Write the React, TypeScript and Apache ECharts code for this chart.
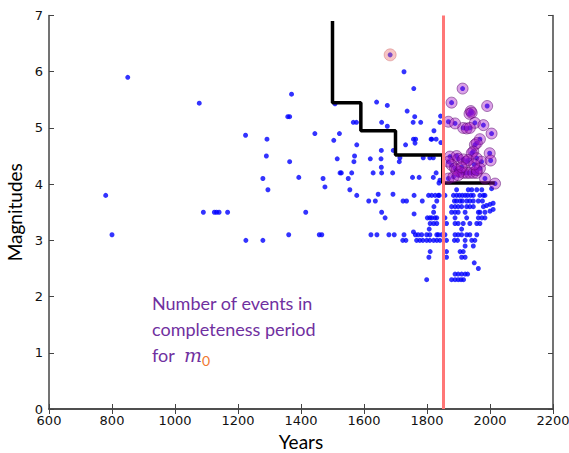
import React, { useEffect, useRef } from "react";
import * as echarts from "echarts";

// ---- data (year, magnitude) ----
const historicEvents: number[][] = [
  [780, 3.8], [800, 3.1], [850, 5.9], [1077, 5.44], [1090, 3.5], [1125, 3.5], [1132, 3.5], [1140, 3.5], [1167, 3.5],
  [1225, 3.0], [1224, 4.87], [1279, 3.0], [1279, 4.1], [1290, 4.5], [1292, 4.8], [1295, 3.9], [1361, 3.1],
  [1358, 5.2], [1364, 5.2], [1364, 4.4], [1370, 5.6], [1393, 4.12], [1415, 3.5], [1444, 4.9], [1458, 3.1],
  [1466, 3.1], [1470, 4.1], [1476, 3.95],
  [1504, 4.78], [1508, 5.43], [1515, 4.45], [1522, 4.9], [1524, 4.2], [1528, 4.2], [1550, 4.1], [1555, 3.9],
  [1561, 4.2], [1566, 5.1], [1576, 5.1], [1570, 4.5], [1568, 4.4], [1577, 4.7], [1577, 3.8], [1615, 3.7],
  [1620, 4.45], [1622, 3.1], [1629, 4.2], [1636, 3.7], [1640, 5.46], [1641, 3.1], [1645, 3.82], [1655, 4.6],
  [1654, 4.45], [1655, 4.3], [1656, 4.2], [1656, 5.1], [1656, 3.5], [1667, 3.4], [1674, 5.4], [1674, 5.03],
  [1679, 3.1], [1691, 4.2], [1692, 3.82], [1693, 4.6], [1696, 3.1], [1712, 4.4], [1714, 4.47], [1723, 3.0],
  [1724, 3.7], [1727, 6.0], [1727, 3.1], [1732, 4.7], [1733, 3.0], [1735, 3.7], [1737, 5.3], [1754, 4.12],
  [1756, 5.1], [1757, 4.8], [1757, 3.15], [1758, 5.7], [1759, 3.8], [1759, 3.47], [1761, 5.2], [1762, 4.73],
  [1764, 4.8], [1763, 3.1], [1767, 3.0], [1772, 3.1], [1775, 4.12], [1777, 3.0], [1780, 5.1], [1783, 3.1],
  [1785, 3.7], [1787, 3.0], [1788, 4.47], [1799, 3.1], [1799, 3.0], [1799, 2.3], [1801, 3.4], [1805, 3.8],
  [1806, 2.7], [1807, 3.2], [1809, 3.4], [1809, 4.47], [1809, 3.1], [1809, 3.0], [1810, 2.8], [1810, 3.3],
  [1813, 4.8], [1815, 4.8], [1815, 3.8], [1815, 3.4], [1820, 4.12], [1820, 4.47], [1821, 3.5], [1821, 3.3],
  [1821, 3.0], [1822, 4.95], [1822, 3.6], [1825, 3.4], [1826, 3.8], [1829, 4.8], [1829, 4.2], [1831, 3.7],
  [1831, 3.4], [1831, 3.3], [1831, 3.1], [1831, 3.0], [1836, 3.8], [1836, 3.1], [1838, 4.02], [1839, 3.8],
  [1841, 5.1], [1841, 3.0], [1843, 5.21], [1844, 4.74], [1847, 3.1], [1841, 4.07],
  [1857, 3.8], [1884, 3.8], [1894, 3.8], [1903, 3.8], [1912, 3.8], [1921, 3.8], [1929, 3.8], [1939, 3.8],
  [1947, 3.8], [1968, 3.8], [1979, 3.8], [1984, 3.8],
  [1894, 3.9], [1931, 3.9], [1942, 3.9], [1958, 3.9], [1974, 3.9], [2005, 3.92],
  [1887, 3.7], [1894, 3.7], [1905, 3.7], [1912, 3.7], [1926, 3.7], [1936, 3.7], [1947, 3.7], [1963, 3.7], [1976, 3.7],
  [1878, 3.6], [1889, 3.6], [1899, 3.6], [1910, 3.6], [1926, 3.6], [1936, 3.6], [1947, 3.6], [1979, 3.6],
  [1989, 3.62], [2000, 3.64], [2010, 3.66],
  [1878, 3.5], [1889, 3.5], [1899, 3.5], [1921, 3.5], [1963, 3.5], [1968, 3.5], [1984, 3.5], [2000, 3.52], [2010, 3.55],
  [1857, 3.4], [1889, 3.4], [1926, 3.4], [1963, 3.4], [1974, 3.4], [1984, 3.4],
  [1862, 3.3], [1889, 3.3], [1899, 3.3], [1915, 3.3], [1936, 3.3], [1958, 3.3], [1968, 3.3],
  [1910, 3.2],
  [1857, 3.1], [1889, 3.1], [1899, 3.1], [1910, 3.1], [1926, 3.1], [1936, 3.1], [1958, 3.1],
  [1862, 3.0], [1887, 3.0], [1897, 3.0], [1921, 3.0], [1942, 3.0], [1952, 3.0],
  [1921, 2.9], [1947, 2.9], [1862, 2.8], [1905, 2.8], [1915, 2.8], [1862, 2.7], [1910, 2.7], [1921, 2.7],
  [1950, 2.6], [1963, 2.5],
  [1889, 2.4], [1899, 2.4], [1910, 2.4], [1921, 2.4], [1929, 2.4],
  [1878, 2.3], [1889, 2.3], [1899, 2.3], [1908, 2.3], [1916, 2.3],
];

// events counted in the completeness period for m0 (purple)
const completeEvents: number[][] = [
  [1878, 5.45], [1991, 5.39], [1939, 5.3], [1935, 5.25], [1942, 5.27], [1913, 5.7], [1868, 5.11], [1889, 5.08],
  [1952, 5.09], [1979, 5.05], [1915, 5.0], [1926, 4.99], [1936, 5.0], [2005, 4.9], [1968, 4.8], [1952, 4.7],
  [1958, 4.73], [1947, 4.58], [1942, 4.55], [1999, 4.55], [1873, 4.49], [1894, 4.5], [1899, 4.45], [1915, 4.44],
  [1926, 4.4], [1931, 4.43], [1958, 4.46], [1973, 4.4], [2002, 4.42], [1868, 4.4], [1878, 4.34], [1889, 4.28],
  [1894, 4.25], [1905, 4.22], [1915, 4.2], [1926, 4.2], [1936, 4.2], [1947, 4.2], [1958, 4.2], [1968, 4.28],
  [1984, 4.1], [1868, 4.1], [1884, 4.13], [1899, 4.16], [2016, 4.01], [1958, 4.25], [1910, 4.3], [1950, 4.35],
];

// largest historic event highlighted (salmon)
const highlightEvent: number[][] = [[1683, 6.3]];

// completeness step function: [year, magnitude threshold]
const completenessSteps: number[][] = [
  [1500, 6.9], [1500, 5.45], [1590, 5.45], [1590, 4.95], [1700, 4.95], [1700, 4.52],
  [1850, 4.52], [1850, 4.02], [2015, 4.02],
];
const completenessYear = 1850;

const xMin = 600, xMax = 2200, xStep = 200;
const yMin = 0, yMax = 7, yStep = 1;

export default function App() {
  const ref = useRef<HTMLDivElement>(null);
  useEffect(() => {
    if (!ref.current) return;
    const chart = echarts.init(ref.current, undefined, { renderer: "svg" });
    const tickFont = {
      fontFamily: "DejaVu Sans", fontSize: 13, color: "#111",
      formatter: (v: number) => String(v),
    };
    const axisLine = { show: true, lineStyle: { color: "#444", width: 1.5 } };
    const axisTick = { show: true, inside: true, length: 5, lineStyle: { color: "#444", width: 1 } };
    const allBlue = historicEvents.concat(completeEvents, highlightEvent);
    chart.setOption({
      animation: false,
      grid: { left: 49, right: 16, top: 15.5, bottom: 44, containLabel: false, outerBoundsMode: "none" },
      xAxis: [
        {
          type: "value", min: xMin, max: xMax, interval: xStep, position: "bottom",
          axisLine, axisTick, splitLine: { show: false },
          axisLabel: { ...tickFont, margin: 5 },
          name: "Years", nameLocation: "middle", nameGap: 23,
          nameTextStyle: { fontFamily: "Lato", fontSize: 19, color: "#000" },
        },
        {
          type: "value", min: xMin, max: xMax, interval: xStep, position: "top",
          axisLine, axisTick, splitLine: { show: false }, axisLabel: { show: false },
        },
      ],
      yAxis: [
        {
          type: "value", min: yMin, max: yMax, interval: yStep, position: "left",
          axisLine, axisTick, splitLine: { show: false },
          axisLabel: { ...tickFont, margin: 6 },
          name: "Magnitudes", nameLocation: "middle", nameGap: 22,
          nameTextStyle: { fontFamily: "Lato", fontSize: 19, color: "#000" },
        },
        {
          type: "value", min: yMin, max: yMax, interval: yStep, position: "right",
          axisLine, axisTick, splitLine: { show: false }, axisLabel: { show: false },
        },
      ],
      series: [
        {
          type: "line", data: [], z: 1,
          markLine: {
            silent: true, symbol: "none", label: { show: false },
            lineStyle: { color: "#ff7777", width: 3, type: "solid" },
            data: [{ xAxis: completenessYear }],
          },
        },
        {
          type: "scatter", data: allBlue, symbol: "circle", symbolSize: 5, z: 2,
          itemStyle: { color: "#0000ff" },
        },
        {
          type: "line", data: completenessSteps, showSymbol: false, symbol: "none", z: 3,
          lineStyle: { color: "#000", width: 3.5 },
        },
        {
          type: "scatter", data: completeEvents, symbol: "circle", symbolSize: 11, z: 4,
          itemStyle: { color: "rgba(165,20,195,0.5)", borderColor: "rgba(80,0,100,0.6)", borderWidth: 1 },
        },
        {
          type: "scatter", data: highlightEvent, symbol: "circle", symbolSize: 12, z: 4,
          itemStyle: { color: "rgba(235,110,110,0.5)", borderColor: "rgba(200,90,90,0.5)", borderWidth: 1 },
        },
      ],
      graphic: [
        {
          type: "text", left: 152, top: 290, z: 10,
          style: {
            text: "Number of events in\ncompleteness period\nfor  {m|m}{s|0}",
            fontFamily: "Lato", fontSize: 18, fill: "#7030a0", lineHeight: 26,
            rich: {
              m: { fontFamily: "DejaVu Serif", fontStyle: "italic", fontSize: 19, fill: "#7030a0", lineHeight: 26 },
              s: { fontFamily: "Lato", fontSize: 14, fill: "#f07830", lineHeight: 26, padding: [10, 0, 0, 0] },
            },
          },
        },
      ],
    });
    return () => chart.dispose();
  }, []);
  return <div ref={ref} style={{ width: 569, height: 453, position: "absolute", left: 0, top: 0 }} />;
}
